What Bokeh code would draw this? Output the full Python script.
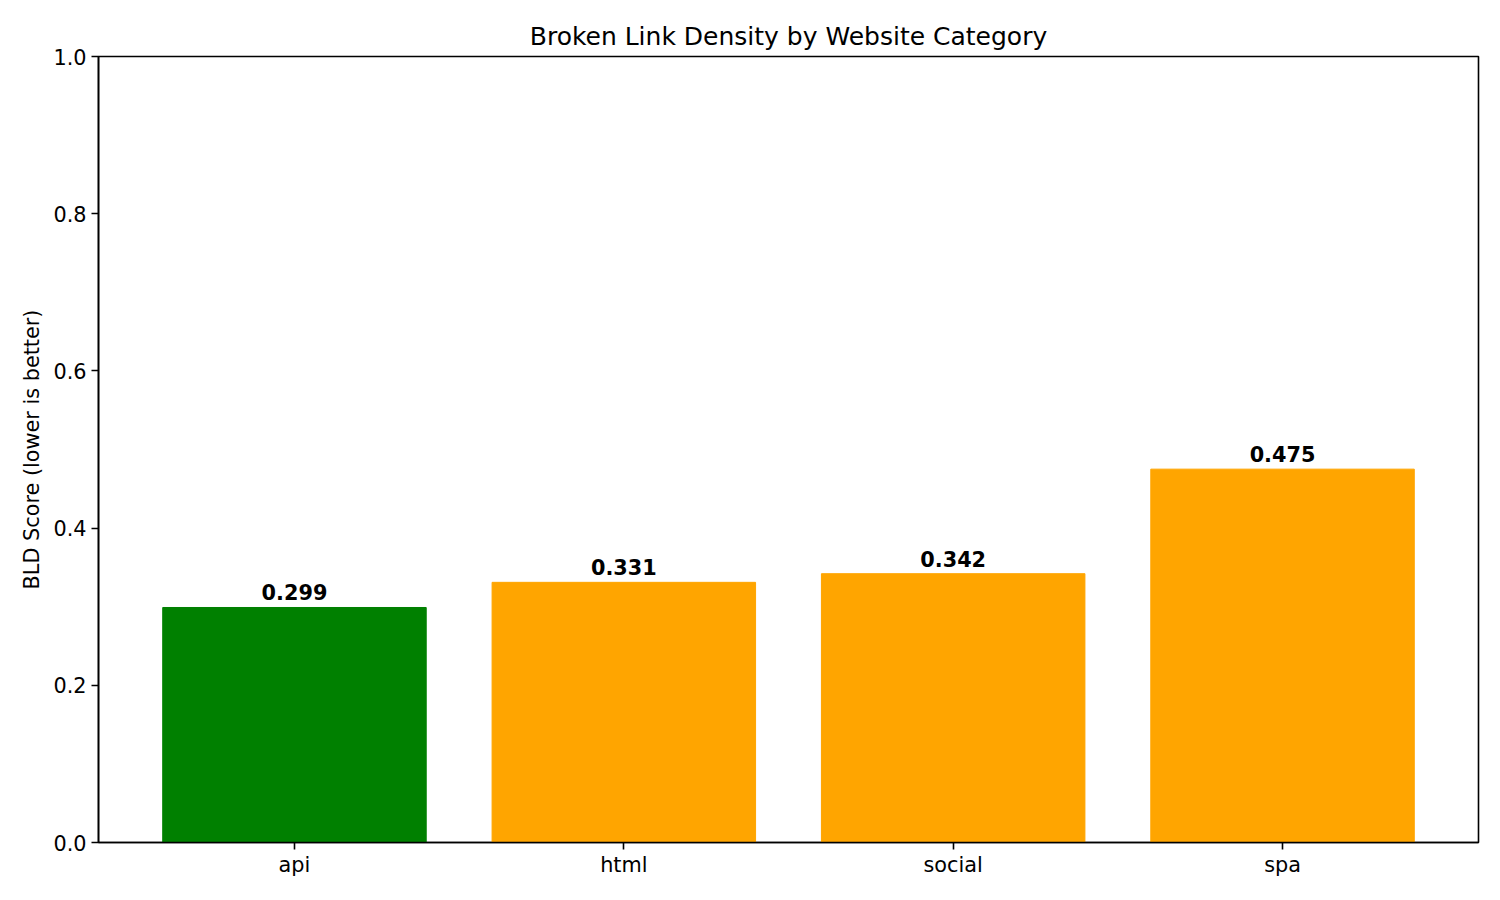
from bokeh.plotting import figure
from bokeh.models import ColumnDataSource, FixedTicker, Range1d
from bokeh.core.properties import value
from bokeh.embed import file_html
from bokeh.resources import INLINE

categories = ["api", "html", "social", "spa"]
scores = [0.299, 0.331, 0.342, 0.475]
colors = ["#008000", "#FFA500", "#FFA500", "#FFA500"]
y_ticks = [0.0, 0.2, 0.4, 0.6, 0.8, 1.0]

xs = list(range(len(categories)))
src = ColumnDataSource(dict(x=xs, top=scores, color=colors,
                            label=[f"{v:.3f}" for v in scores]))

p = figure(width=1500, height=900, output_backend="svg", toolbar_location=None,
           x_range=Range1d(-0.595, 3.595), y_range=Range1d(0, 1),
           min_border_left=98, min_border_right=22, min_border_top=56, min_border_bottom=58,
           title="Broken Link Density by Website Category")
p.title.align = "center"
p.title.text_font = "DejaVu Sans"
p.title.text_font_size = "25px"
p.title.text_font_style = "normal"
p.title.text_color = "black"
p.title.offset = 0
p.title.standoff = 11

p.vbar(x="x", top="top", width=0.8, color="color", source=src)
p.text(x="x", y="top", text="label", source=src, text_align="center", text_baseline="bottom",
       y_offset=-7, text_font=value("DejaVu Sans"), text_font_size="20.8px",
       text_font_style="bold", text_color="black")

p.xgrid.visible = False
p.ygrid.visible = False
p.outline_line_color = "black"
p.outline_line_alpha = 1
p.outline_line_width = 1.6

p.xaxis.ticker = FixedTicker(ticks=xs)
p.xaxis.major_label_overrides = {i: c for i, c in enumerate(categories)}
p.yaxis.ticker = FixedTicker(ticks=y_ticks)
p.yaxis.major_label_overrides = {t: f"{t:.1f}" for t in y_ticks}
p.yaxis.axis_label = "BLD Score (lower is better)"
for ax in (p.xaxis[0], p.yaxis[0]):
    ax.major_tick_in = 0
    ax.major_tick_out = 7
    ax.major_tick_line_width = 1.6
    ax.minor_tick_line_color = None
    ax.major_label_text_font = "DejaVu Sans"
    ax.major_label_text_font_size = "20.8px"
    ax.major_label_text_color = "black"
    ax.axis_label_text_font = "DejaVu Sans"
    ax.axis_label_text_font_size = "20.8px"
    ax.axis_label_text_font_style = "normal"
    ax.axis_label_text_color = "black"
    ax.axis_line_color = "black"
    ax.axis_line_width = 1.6
p.yaxis.axis_label_standoff = 6
p.yaxis.major_label_standoff = 5
p.xaxis.major_label_standoff = 3

open("out.html", "w").write(file_html(p, INLINE))
